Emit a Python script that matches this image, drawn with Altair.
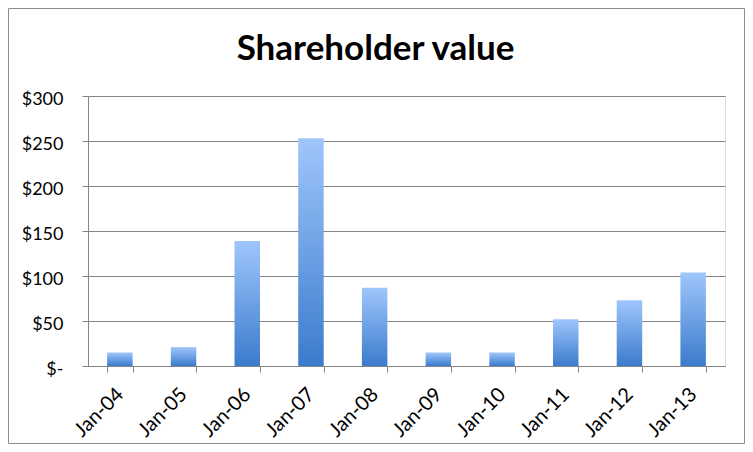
import altair as alt
import pandas as pd

title_text = "Shareholder value"
months = ["Jan-04", "Jan-05", "Jan-06", "Jan-07", "Jan-08",
          "Jan-09", "Jan-10", "Jan-11", "Jan-12", "Jan-13"]
values = [15, 21, 139, 253, 87, 15, 15, 52, 73, 104]

df = pd.DataFrame({"month": months, "value": values})

W, H = 637, 270
PAD_L, PAD_T = 80, 88
TOTAL_W, TOTAL_H = 737, 436

grad = alt.Gradient(
    gradient="linear",
    stops=[alt.GradientStop(color="#9fc6fc", offset=0),
           alt.GradientStop(color="#3b7bcc", offset=1)],
    x1=0, x2=0, y1=0, y2=1,
)

bars = alt.Chart(df).mark_bar(color=grad).encode(
    x=alt.X("month:N", sort=None, title=None,
            scale=alt.Scale(paddingInner=0.6, paddingOuter=0.3),
            axis=alt.Axis(labelAngle=-45, labelAlign="right", labelBaseline="middle",
                          tickBand="extent", tickSize=6, labelPadding=19,
                          domainColor="#858585", tickColor="#858585",
                          labelFont="Lato", labelFontSize=20, labelColor="#000000",
                          grid=False)),
    y=alt.Y("value:Q", title=None,
            scale=alt.Scale(domain=[0, 300], nice=False),
            axis=alt.Axis(values=[0, 50, 100, 150, 200, 250, 300],
                          labelExpr="datum.value == 0 ? '$-\u00a0\u00a0' : '$' + datum.value",
                          tickSize=6, labelPadding=19, labelOffset=3,
                          domainColor="#858585", tickColor="#858585",
                          gridColor="#858585", gridWidth=1.2,
                          labelFont="Lato", labelFontSize=18, labelColor="#000000")),
)

one = pd.DataFrame({"k": [0]})
frame = alt.Chart(one).mark_rect(fill=None, stroke="#8c8c8c", strokeWidth=1).encode(
    x=alt.value(-PAD_L + 0.5), x2=alt.value(TOTAL_W - PAD_L - 0.5),
    y=alt.value(-PAD_T + 0.5), y2=alt.value(TOTAL_H - PAD_T - 0.5),
)

title = alt.Chart(one).mark_text(
    text=title_text, font="Lato", fontSize=35, fontWeight="bold", color="#000000",
    align="center", baseline="alphabetic",
).encode(x=alt.value(287.5), y=alt.value(-36))

chart = alt.layer(frame, bars, title).properties(
    width=W, height=H,
    autosize=alt.AutoSizeParams(type="none"),
    padding={"left": PAD_L, "top": PAD_T, "right": TOTAL_W - PAD_L - W,
             "bottom": TOTAL_H - PAD_T - H},
).configure_view(stroke=None).configure(background="white")

chart.save("out.html", embed_options={"renderer": "svg", "actions": False})
